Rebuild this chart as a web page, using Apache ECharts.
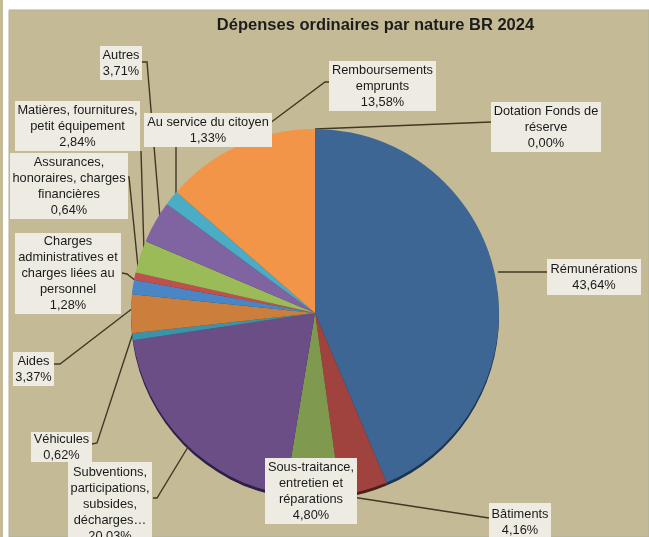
<!DOCTYPE html>
<html><head><meta charset="utf-8">
<style>html,body{margin:0;padding:0;background:#fff}#c{width:649px;height:537px}</style>
<script src="https://cdn.jsdelivr.net/npm/echarts@6/dist/echarts.min.js"></script>
</head><body><div id="c"></div>
<script>
const chartTitle = 'Dépenses ordinaires par nature BR 2024';
const categories = ['Rémunérations','Bâtiments','Sous-traitance,\nentretien et\nréparations','Subventions,\nparticipations,\nsubsides,\ndécharges…','Véhicules','Aides','Charges\nadministratives et\ncharges liées au\npersonnel','Assurances,\nhonoraires, charges\nfinancières','Matières, fournitures,\npetit équipement','Autres','Au service du citoyen','Remboursements\nemprunts','Dotation Fonds de\nréserve'];
const values = [43.64,4.16,4.80,20.03,0.62,3.37,1.28,0.64,2.84,3.71,1.33,13.58,0.00];
const sliceColors = ['#3d6694','#a0433f','#7f9a4e','#6b4e86','#3a92ab','#cc7f3c','#4a85c6','#c0504d','#9bbb59','#8064a2','#4bacc6','#f29548','#bfbfbf'];
const edgeColors = ['#1d3450','#4d1f1d','#3f4d26','#2d2047','#1d4a56','#66401e','#254363','#602826','#4d5d2c','#403251','#255663','#7b4b23','#555555'];
// label boxes: [left, top, right, bottom]
const boxes = [[547,259,641,295],[489,503,551,541],[265,458,357,524],[68,462,152,546],[31,432,92,462],[13,352,54,386],[15,233,121,314],[10,153,128,219],[15,101,140,151],[100,46,142,80],[144,113,272,147],[329,61,436,111],[491,102,601,152]];
const leaders = [
 [[498,272],[547,272]],
 [[352,497],[489,518]],
 [[300,480],[310,480]],
 [[153,498],[157,498],[188,447]],
 [[92,444],[97,443],[133,333]],
 [[54,364],[60,364],[133,308]],
 [[122,273],[127,274],[136,281]],
 [[128,177],[129,177],[138,267]],
 [[141,151],[144,252]],
 [[142,62],[147,62],[160,218]],
 [[176,147],[176,195]],
 [[329,82],[325,82],[250,138]],
 [[491,122],[315,129]]
];
const fmt = v => v.toFixed(2).replace('.', ',') + '%';
const chart = echarts.init(document.getElementById('c'), null, {renderer:'canvas'});
chart.setOption({
 animation:false,
 backgroundColor:'#ffffff',
 title:{text:chartTitle,left:370.5,top:12,textAlign:'center',textStyle:{fontFamily:'Liberation Sans',fontWeight:'bold',fontSize:16.5,color:'#1c1c1c'}},
 graphic:[
  {type:'rect',z:-10,shape:{x:0,y:0,width:3,height:537},style:{fill:'#c5bc97'},silent:true},
  {type:'rect',z:-10,shape:{x:9,y:10,width:640,height:527},style:{fill:'#c4bb96',stroke:'#b3ad94',lineWidth:1},silent:true}
 ],
 series:[
  {type:'pie',silent:true,z:1,center:[315,316],radius:[0,184],startAngle:90,clockwise:true,label:{show:false},labelLine:{show:false},
   data:values.map((v,i)=>({value:v,itemStyle:{color:edgeColors[i]}}))},
  {type:'pie',z:2,center:[315,313],radius:[0,184],startAngle:90,clockwise:true,
   itemStyle:{borderWidth:0},
   label:{show:true,position:'outer',fontFamily:'Liberation Sans',fontSize:12.8,lineHeight:16,color:'#1a1a1a',backgroundColor:'#eeebe3',align:'center',verticalAlign:'middle'},
   labelLine:{show:true,lineStyle:{color:'#3f3923',width:1.4}},
   labelLayout:p=>{const b=boxes[p.dataIndex];return {x:(b[0]+b[2])/2,y:(b[1]+b[3])/2,align:'center',verticalAlign:'middle',labelLinePoints:leaders[p.dataIndex]};},
   data:values.map((v,i)=>({value:v,name:categories[i],itemStyle:{color:sliceColors[i]},
     label:{formatter:categories[i]+'\n'+fmt(v),width:boxes[i][2]-boxes[i][0],height:boxes[i][3]-boxes[i][1]}}))}
 ]
});
</script></body></html>
